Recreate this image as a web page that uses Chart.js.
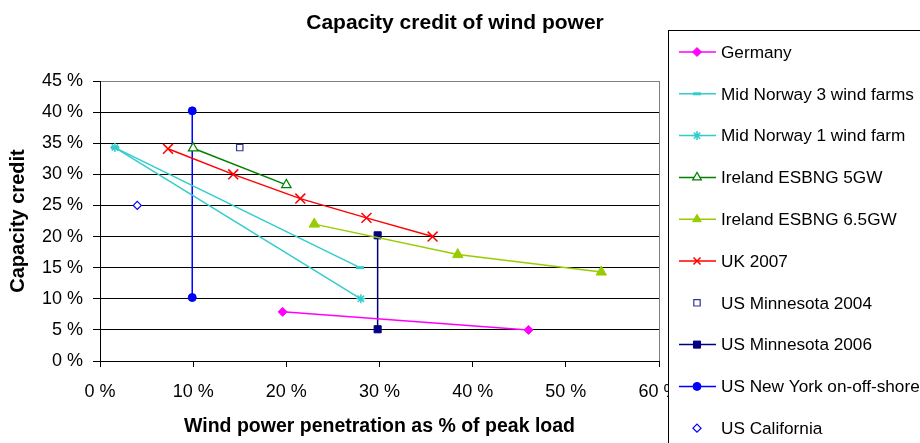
<!DOCTYPE html>
<html>
<head>
<meta charset="utf-8">
<script src="https://cdn.jsdelivr.net/npm/chart.js@4"></script>
<style>
  html, body { margin: 0; padding: 0; background: #fff; }
  #wrap { width: 920px; height: 443px; }
</style>
</head>
<body>
<div id="wrap"><canvas id="windChart" width="920" height="443"></canvas></div>
<script>
// values, in percent: [penetration, capacity credit]
const germany = [[19.6, 7.9], [46.0, 5.0]];
const midNorway3 = [[1.6, 34.3], [27.9, 15.0]];
const midNorway1 = [[1.6, 34.3], [28.0, 10.0]];
const ireland5 = [[10.0, 34.2], [20.0, 28.3]];
const ireland65 = [[23.0, 22.0], [38.4, 17.1], [53.8, 14.3]];
const uk2007 = [[7.3, 34.1], [14.3, 30.0], [21.5, 26.1], [28.6, 23.0], [35.7, 20.0]];
const minnesota2004 = [[15.0, 34.3]];
const minnesota2006 = [[29.8, 20.2], [29.8, 5.1]];
const newYork = [[9.9, 40.2], [9.9, 10.2]];
const california = [[4.0, 25.0]];

const xTicks = [0, 10, 20, 30, 40, 50, 60];
const yTicks = [0, 5, 10, 15, 20, 25, 30, 35, 40, 45];

const FONT = "'Liberation Sans', Arial, sans-serif";

function pts(arr) {
    return arr.map(p => ({ x: p[0], y: p[1] }));
}

function series(label, arr, color, style, opts) {
    return Object.assign({
        label: label,
        data: pts(arr),
        borderColor: color,
        backgroundColor: color,
        borderWidth: 1.5,
        pointStyle: style,
        pointRadius: 4,
        pointBorderColor: color,
        pointBackgroundColor: color,
        pointBorderWidth: 1,
        showLine: true,
    }, opts || {});
}

const datasets = [
    series("Germany", germany, "#ff00ff", "rectRot", { pointRadius: 4.5 }),
    series("Mid Norway 3 wind farms", midNorway3, "#33cccc", "line", { pointRadius: 4, pointBorderWidth: 3 }),
    series("Mid Norway 1 wind farm", midNorway1, "#33cccc", "star", { pointRadius: 4.5, pointBorderWidth: 1.5 }),
    series("Ireland ESBNG 5GW", ireland5, "#008000", "triangle", { pointRadius: 5.5, pointBackgroundColor: "#fff", pointBorderWidth: 1.2 }),
    series("Ireland ESBNG 6.5GW", ireland65, "#99cc00", "triangle", { pointRadius: 6 }),
    series("UK 2007", uk2007, "#ff0000", "crossRot", { pointRadius: 7, pointBorderWidth: 1.5 }),
    series("US Minnesota 2004", minnesota2004, "#333399", "rect", { showLine: false, pointRadius: 4.5, pointBackgroundColor: "#fff", pointBorderWidth: 1.2 }),
    series("US Minnesota 2006", minnesota2006, "#000080", "rect", { pointRadius: 5 }),
    series("US New York on-off-shore", newYork, "#0000ff", "circle", { pointRadius: 4 }),
    series("US California", california, "#0000ff", "rectRot", { showLine: false, pointRadius: 4, pointBackgroundColor: "#fff", pointBorderWidth: 1.2 }),
];

// chart title, placed like the original (roughly centred on the canvas)
const titlePlugin = {
    id: "plotTitle",
    afterDraw(chart) {
        const ctx = chart.ctx;
        ctx.save();
        ctx.font = "bold 21px " + FONT;
        ctx.fillStyle = "#000";
        ctx.textAlign = "center";
        ctx.textBaseline = "middle";
        ctx.fillText("Capacity credit of wind power", 455, 23);
        ctx.restore();
    }
};

// boxed legend on the right, overlapping the chart like the original
const boxLegend = {
    id: "boxLegend",
    afterDraw(chart) {
        const ctx = chart.ctx;
        const left = 668.5, top = 30.5;
        ctx.save();
        ctx.fillStyle = "#fff";
        ctx.fillRect(left, top, 400, 500);
        ctx.strokeStyle = "#000";
        ctx.lineWidth = 1;
        ctx.strokeRect(left, top, 400, 500);
        ctx.font = "17.2px " + FONT;
        ctx.textBaseline = "middle";
        ctx.textAlign = "left";
        chart.data.datasets.forEach((ds, i) => {
            const y = 52 + i * 41.8;
            if (ds.showLine !== false) {
                ctx.strokeStyle = ds.borderColor;
                ctx.lineWidth = 1.5;
                ctx.beginPath();
                ctx.moveTo(679, y);
                ctx.lineTo(716, y);
                ctx.stroke();
            }
            ctx.strokeStyle = ds.pointBorderColor;
            ctx.fillStyle = ds.pointBackgroundColor;
            ctx.lineWidth = ds.pointBorderWidth;
            Chart.helpers.drawPoint(ctx, {
                pointStyle: ds.pointStyle,
                radius: Math.min(ds.pointRadius, 5),
                rotation: 0,
                borderWidth: ds.pointBorderWidth,
            }, 697, y);
            ctx.fillStyle = "#000";
            ctx.fillText(ds.label, 721, y + 1);
        });
        ctx.restore();
    }
};

const ctx = document.getElementById("windChart").getContext("2d");
new Chart(ctx, {
    type: "scatter",
    data: { datasets: datasets },
    options: {
        responsive: false,
        animation: false,
        events: [],
        layout: { padding: { top: 81, right: 261, bottom: 0, left: 0 } },
        plugins: {
            legend: { display: false },
            title: { display: false },
            tooltip: { enabled: false },
        },
        scales: {
            x: {
                type: "linear",
                min: 0,
                max: 60,
                afterFit: s => { s.height = 82; },
                afterBuildTicks: s => { s.ticks = xTicks.map(v => ({ value: v })); },
                ticks: {
                    color: "#000",
                    font: { family: FONT, size: 18 },
                    padding: 14,
                    maxRotation: 0,
                    callback: v => v + " %",
                },
                grid: {
                    drawOnChartArea: true,
                    color: c => (c.tick && c.tick.value === 60 ? "#808080" : "rgba(0,0,0,0)"),
                    tickColor: "#000",
                    tickLength: 6,
                },
                border: { color: "#000", width: 1 },
                title: {
                    display: true,
                    text: "Wind power penetration as % of peak load",
                    color: "#000",
                    font: { family: FONT, size: 19.5, weight: "bold" },
                    padding: { top: 4, bottom: 5 },
                },
            },
            y: {
                type: "linear",
                min: 0,
                max: 45,
                afterFit: s => { s.width = 100; },
                afterBuildTicks: s => { s.ticks = yTicks.map(v => ({ value: v })); },
                ticks: {
                    color: "#000",
                    font: { family: FONT, size: 18 },
                    padding: 10,
                    callback: v => v + " %",
                },
                grid: {
                    color: c => (c.tick && c.tick.value === 45 ? "#808080" : "#000"),
                    tickColor: "#000",
                    tickLength: 7,
                },
                border: { color: "#000", width: 1 },
                title: {
                    display: true,
                    text: "Capacity credit",
                    color: "#000",
                    font: { family: FONT, size: 20, weight: "bold" },
                    padding: { top: 6, bottom: 4 },
                },
            },
        },
    },
    plugins: [titlePlugin, boxLegend],
});
</script>
</body>
</html>
